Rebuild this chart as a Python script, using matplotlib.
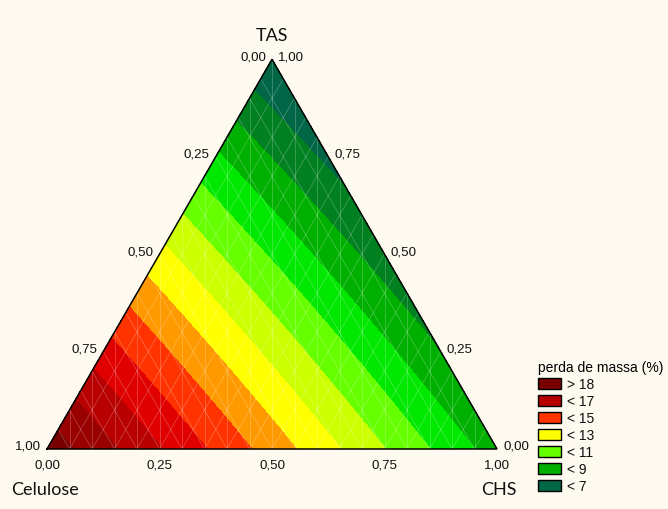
import numpy as np
import matplotlib
matplotlib.use("Agg")
import matplotlib.pyplot as plt
import matplotlib.tri as mtri
from matplotlib.patches import Patch

# ---------------- data ----------------
components = ["Celulose", "CHS", "TAS"]
# fitted mixture model: linear blending coefficients (Celulose, CHS, TAS)
coef_linear = [18.6, 8.5, 6.0]
# binary interaction coefficients
coef_cel_chs = 0.0
coef_cel_tas = 0.0
coef_chs_tas = 0.75

levels = [7, 8, 9, 10, 11, 12, 13, 14, 15, 16, 17, 18]
band_colors = ["#006646", "#008020", "#00b000", "#00e800", "#66ff00",
               "#ccff00", "#ffff00", "#ff9900", "#ff3300", "#e00000",
               "#b80000", "#990000", "#780000"]

legend_labels = ["> 18", "< 17", "< 15", "< 13", "< 11", "< 9", "< 7"]
legend_colors = ["#780000", "#b80000", "#ff3300", "#ffff00", "#66ff00",
                 "#00b000", "#006646"]
legend_title = "perda de massa (%)"

tick_values = [0.0, 0.25, 0.50, 0.75, 1.0]
tick_labels = ["0,00", "0,25", "0,50", "0,75", "1,00"]

# ---------------- helpers ----------------
H = np.sqrt(3) / 2


def to_xy(chs, tas):
    return chs + tas / 2.0, tas * H


bg = "#fefaf0"
fig = plt.figure(figsize=(6.68, 5.10), dpi=100, facecolor=bg)
ax = fig.add_axes([0, 0, 1, 1])
ax.set_facecolor(bg)
ax.set_xlim(-47 / 450, 621 / 450)
ax.set_ylim(-60 / 450, 450 / 450)
ax.axis("off")

# surface on a triangular grid
n = 150
cel_l, chs_l, tas_l = [], [], []
for i in range(n + 1):
    for j in range(n + 1 - i):
        chs_l.append(i / n)
        tas_l.append(j / n)
        cel_l.append(1 - i / n - j / n)
cel = np.clip(np.array(cel_l), 0, 1)
chs = np.array(chs_l)
tas = np.array(tas_l)
resp = (coef_linear[0] * cel + coef_linear[1] * chs + coef_linear[2] * tas
        + coef_cel_chs * cel * chs + coef_cel_tas * cel * tas
        + coef_chs_tas * chs * tas)
px, py = to_xy(chs, tas)
tri = mtri.Triangulation(px, py)
lv = [resp.min() - 1] + levels + [resp.max() + 1]
ax.tricontourf(tri, resp, levels=lv, colors=band_colors, antialiased=False)

# faint mesh lines
mesh_kw = dict(color="white", alpha=0.25, lw=0.6, zorder=3)
for k in range(1, 20):
    x = k / 20
    ax.plot([x, x], [0, np.sqrt(3) * min(x, 1 - x)], **mesh_kw)
for k in range(1, 20):
    c = k / 20
    x0, y0 = to_xy(c, 0)
    x1, y1 = to_xy(c, 1 - c)
    ax.plot([x0, x1], [y0, y1], **mesh_kw)
    x0, y0 = to_xy(1 - c, 0)
    x1, y1 = to_xy(0, 1 - c)
    ax.plot([x0, x1], [y0, y1], **mesh_kw)

# triangle outline
vx, vy = to_xy(np.array([0, 1, 0, 0]), np.array([0, 0, 1, 0]))
ax.plot(vx, vy, color="black", lw=1.1, zorder=4, solid_joinstyle="miter")

tick_font = dict(family="Liberation Sans", fontsize=9.6, color="#111111")
# left edge: Celulose
for v, s in zip(tick_values, tick_labels):
    x, y = to_xy(0, 1 - v)
    ax.annotate(s, (x, y), xytext=(-6, 3), textcoords="offset pixels",
                ha="right", va="center", **tick_font)
# bottom edge: CHS
for v, s in zip(tick_values, tick_labels):
    x, y = to_xy(v, 0)
    ax.annotate(s, (x, y), xytext=(0, -16), textcoords="offset pixels",
                ha="center", va="center", **tick_font)
# right edge: TAS
for v, s in zip(tick_values, tick_labels):
    x, y = to_xy(1 - v, v)
    ax.annotate(s, (x, y), xytext=(6, 3), textcoords="offset pixels",
                ha="left", va="center", **tick_font)

title_font = dict(family="Lato", fontsize=13, color="#111111")
x, y = to_xy(0, 1)
ax.annotate(components[2], (x, y), xytext=(0, 24), textcoords="offset pixels",
            ha="center", va="center", **title_font)
x, y = to_xy(0, 0)
ax.annotate(components[0], (x, y), xytext=(-36, -40), textcoords="offset pixels",
            ha="left", va="center", **title_font)
x, y = to_xy(1, 0)
ax.annotate(components[1], (x, y), xytext=(2, -40), textcoords="offset pixels",
            ha="center", va="center", **title_font)

handles = [Patch(facecolor=c, edgecolor="black", lw=1.0) for c in legend_colors]
leg = fig.legend(handles, legend_labels, title=legend_title,
                 loc="upper left", bbox_to_anchor=(538 / 668, 1 - 361 / 510),
                 frameon=False, borderpad=0, borderaxespad=0,
                 prop=dict(family="Liberation Sans", size=10),
                 title_fontproperties=dict(family="Liberation Sans", size=10),
                 handlelength=1.65, handleheight=0.85, handletextpad=0.45,
                 labelspacing=0.22, alignment="left")
for t in leg.get_texts():
    t.set_color("#111111")

fig.savefig("out.png", dpi=100, facecolor=bg)
